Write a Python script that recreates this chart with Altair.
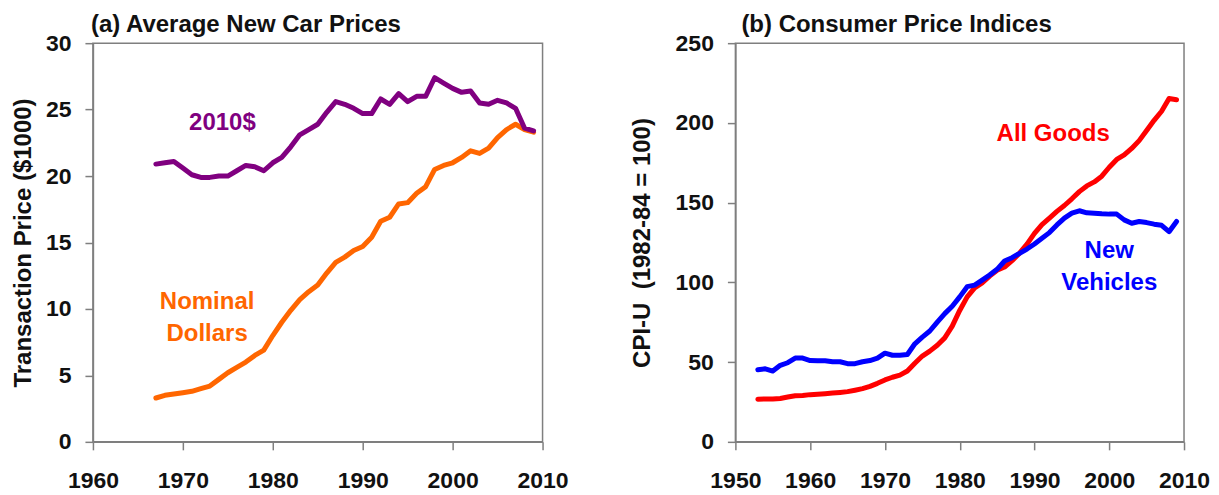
import altair as alt
import pandas as pd

# ---------------- data ----------------
years_a = list(range(1967, 2010))
price_2010 = [20.9, 21.0, 21.1, 20.6, 20.1, 19.9, 19.9, 20.0, 20.0, 20.4,
              20.8, 20.7, 20.4, 21.0, 21.4, 22.2, 23.1, 23.5, 23.9, 24.8,
              25.6, 25.4, 25.1, 24.7, 24.7, 25.8, 25.4, 26.2, 25.6, 26.0,
              26.0, 27.4, 27.0, 26.6, 26.3, 26.4, 25.5, 25.4, 25.7, 25.5,
              25.1, 23.6, 23.4]
price_nominal = [3.3, 3.5, 3.6, 3.7, 3.8, 4.0, 4.2, 4.7, 5.2, 5.6,
                 6.0, 6.5, 6.9, 8.0, 9.0, 9.9, 10.7, 11.3, 11.8, 12.7,
                 13.5, 13.9, 14.4, 14.7, 15.4, 16.6, 16.9, 17.9, 18.0, 18.7,
                 19.2, 20.5, 20.8, 21.0, 21.4, 21.9, 21.7, 22.1, 22.9, 23.5,
                 23.9, 23.5, 23.3]

years_b = list(range(1953, 2010))
cpi_all = [26.7, 26.9, 26.8, 27.2, 28.1, 28.9, 29.1,
           29.6, 29.9, 30.2, 30.6, 31.0, 31.5, 32.4, 33.4, 34.8, 36.7,
           38.8, 40.5, 41.8, 44.4, 49.3, 53.8, 56.9, 60.6, 65.2, 72.6,
           82.4, 90.9, 96.5, 99.6, 103.9, 107.6, 109.6, 113.6, 118.3, 124.0,
           130.7, 136.2, 140.3, 144.5, 148.2, 152.4, 156.9, 160.5, 163.0, 166.6,
           172.2, 177.1, 179.9, 184.0, 188.9, 195.3, 201.6, 207.3, 215.3, 214.5]
cpi_vehicles = [45.2, 45.8, 44.4, 48.0, 49.6, 52.5, 52.5,
                51.0, 50.8, 50.8, 50.2, 50.2, 49.0, 49.0, 50.2, 51.0, 52.5,
                55.6, 54.3, 54.3, 54.8, 61.5, 65.7, 69.5, 75.1, 80.4, 85.0,
                90.9, 97.3, 98.3, 101.4, 104.6, 108.2, 113.4, 115.5, 118.2, 120.9,
                124.1, 127.6, 131.2, 136.0, 140.3, 143.4, 144.9, 143.6, 143.4, 143.0,
                142.8, 142.8, 139.2, 137.1, 138.2, 137.5, 136.5, 135.8, 131.8, 138.2]

# annotation labels (text, year, value) in data units
labels_2010 = ["2010$"]
labels_2010_x = [1974.4]
labels_2010_y = [24.0]
labels_nominal = ["Nominal", "Dollars"]
labels_nominal_x = [1972.7, 1972.7]
labels_nominal_y = [10.55, 8.1]
labels_all = ["All Goods"]
labels_all_x = [1992.5]
labels_all_y = [192.8]
labels_veh = ["New", "Vehicles"]
labels_veh_x = [2000.0, 2000.0]
labels_veh_y = [119.5, 99.3]

ticks_xa = [1960, 1970, 1980, 1990, 2000, 2010]
ticks_ya = [0, 5, 10, 15, 20, 25, 30]
ticks_xb = [1950, 1960, 1970, 1980, 1990, 2000, 2010]
ticks_yb = [0, 50, 100, 150, 200, 250]

PURPLE = "#800080"
ORANGE = "#FF6600"
RED = "#FF0000"
BLUE = "#0000FF"
FONT = "Liberation Sans"


def line_layer(xs, ys, color, xscale, yscale, xaxis, yaxis):
    df = pd.DataFrame({"year": xs, "value": ys})
    return alt.Chart(df).mark_line(
        color=color, strokeWidth=5, strokeCap="round", strokeJoin="round"
    ).encode(
        x=alt.X("year:Q", scale=xscale, axis=xaxis),
        y=alt.Y("value:Q", scale=yscale, axis=yaxis),
    )


def text_layer(texts, xs, ys, color, xscale, yscale):
    df = pd.DataFrame({"label": texts, "year": xs, "value": ys})
    return alt.Chart(df).mark_text(
        color=color, font=FONT, fontSize=24, fontWeight="bold",
        align="center", baseline="middle"
    ).encode(
        x=alt.X("year:Q", scale=xscale),
        y=alt.Y("value:Q", scale=yscale),
        text="label:N",
    )


def xaxis(vals):
    return alt.Axis(values=vals, format="d", title=None, labelFlush=False,
                    labelPadding=20, labelOverlap=False)


def yaxis(vals, title, tx):
    return alt.Axis(values=vals, format="d", title=title, labelPadding=14,
                    titleX=tx, titleBaseline="middle", titleAngle=270)


# ---------------- panel (a) ----------------
xs_a = alt.Scale(domain=[1960, 2010], nice=False, zero=False)
ys_a = alt.Scale(domain=[0, 30], nice=False)
xa = xaxis(ticks_xa)
ya = yaxis(ticks_ya, "Transaction Price ($1000)", -69)

panel_a = alt.layer(
    line_layer(years_a, price_nominal, ORANGE, xs_a, ys_a, xa, ya),
    line_layer(years_a, price_2010, PURPLE, xs_a, ys_a, xa, ya),
    text_layer(labels_2010, labels_2010_x, labels_2010_y, PURPLE, xs_a, ys_a),
    text_layer(labels_nominal, labels_nominal_x, labels_nominal_y, ORANGE, xs_a, ys_a),
).properties(
    width=450, height=399,
    title=alt.TitleParams("(a) Average New Car Prices", anchor="start", frame="group",
                          font=FONT, fontSize=24, fontWeight="bold", color="#111111",
                          offset=-5, dx=-2),
)

# ---------------- panel (b) ----------------
xs_b = alt.Scale(domain=[1950, 2010], nice=False, zero=False)
ys_b = alt.Scale(domain=[0, 250], nice=False)
xb = xaxis(ticks_xb)
yb = yaxis(ticks_yb, "CPI-U\u00a0 (1982-84 = 100)", -93)

panel_b = alt.layer(
    line_layer(years_b, cpi_all, RED, xs_b, ys_b, xb, yb),
    line_layer(years_b, cpi_vehicles, BLUE, xs_b, ys_b, xb, yb),
    text_layer(labels_all, labels_all_x, labels_all_y, RED, xs_b, ys_b),
    text_layer(labels_veh, labels_veh_x, labels_veh_y, BLUE, xs_b, ys_b),
).properties(
    width=449, height=399,
    title=alt.TitleParams("(b) Consumer Price Indices", anchor="start", frame="group",
                          font=FONT, fontSize=24, fontWeight="bold", color="#111111",
                          offset=-5, dx=6),
)

chart = alt.hconcat(panel_a, panel_b, spacing=60).properties(
    padding={"left": 3, "top": 4, "right": 0, "bottom": 0}
).configure_view(
    stroke="#7f7f7f", strokeWidth=1.5
).configure_axis(
    labelFont=FONT, labelFontSize=23, labelFontWeight="bold", labelColor="#111111",
    titleFont=FONT, titleFontSize=24, titleFontWeight="bold", titleColor="#111111",
    domainColor="#7f7f7f", domainWidth=1.5, tickColor="#7f7f7f", tickWidth=1.5,
    tickSize=8, grid=False,
)

chart.save("out.html", embed_options={"renderer": "svg", "actions": False})
